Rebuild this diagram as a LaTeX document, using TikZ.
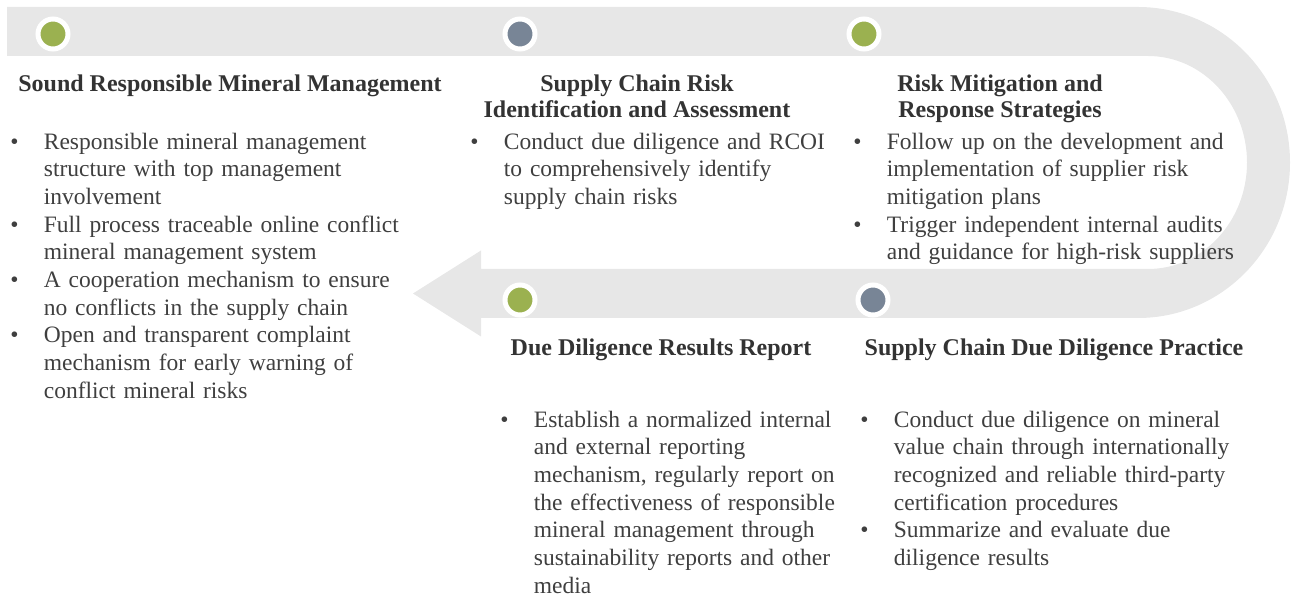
\documentclass[tikz,border=0pt]{standalone}
\usepackage{fontspec}
\setmainfont{Liberation Serif}
\usepackage{tikz}
\usetikzlibrary{positioning}
\definecolor{bandgray}{HTML}{E7E7E7}
\definecolor{dotgreen}{HTML}{9BB150}
\definecolor{dotslate}{HTML}{788596}
\definecolor{headtext}{HTML}{333333}
\definecolor{bodytext}{HTML}{3F3F3F}
\newcommand{\bul}[1]{\par\noindent\lineskip=0pt\makebox[16.75pt][l]{\textbullet}%
  \parbox[t]{\dimexpr\linewidth-16.75pt}{\raggedright\strut#1\strut}\par}

\begin{document}
\begin{tikzpicture}[x=0.5pt, y=0.5pt,
    dot/.style={circle, draw=white, line width=2.5pt, minimum size=15pt, inner sep=0pt},
    heading/.style={font=\fontsize{12}{13.25}\selectfont\bfseries, text=headtext,
        align=center, anchor=north, inner sep=0pt},
    detail/.style={font=\fontsize{11.75}{13.85}\selectfont, text=bodytext,
        anchor=north west, inner sep=0pt},
]
\useasboundingbox (0,0) rectangle (1291,-597);
% U-shaped band ending in an arrow head
\fill[bandgray] (7,-7) -- (1138,-7)
    arc[start angle=90, end angle=-90, x radius=76pt, y radius=77.75pt]
    -- (481,-318) -- (481,-336.5) -- (413,-293.5) -- (481,-250.5) -- (481,-269)
    -- (1148,-269)
    arc[start angle=-90, end angle=90, x radius=49.5pt, y radius=53.25pt]
    -- (7,-56) -- cycle;
% stage dots
\node[dot, fill=dotgreen] (d1) at (53,-34) {};
\node[dot, fill=dotslate] (d2) at (520,-34) {};
\node[dot, fill=dotgreen] (d3) at (864,-34) {};
\node[dot, fill=dotgreen] (d4) at (520,-300) {};
\node[dot, fill=dotslate] (d5) at (873,-300) {};
% headings
\node[heading] (t1) at (230,-72.5) {\strut Sound Responsible Mineral Management};
\node[heading] (t2) at (637,-72.5) {\strut Supply Chain Risk\\Identification and Assessment};
\node[heading] (t3) at (1000,-72.5) {\strut Risk Mitigation and\\Response Strategies};
\node[heading] (t4) at (661,-336.5) {\strut Due Diligence Results Report};
\node[heading] (t5) at (1054,-336.5) {\strut Supply Chain Due Diligence Practice};
% details
\node[detail, text width=205pt] (b1) at (10,-121) {%
  \bul{Responsible mineral management\\structure with top management\\involvement}
  \bul{Full process traceable online conflict\\mineral management system}
  \bul{A cooperation mechanism to ensure\\no conflicts in the supply chain}
  \bul{Open and transparent complaint\\mechanism for early warning of\\conflict mineral risks}};
\node[detail, text width=185pt] (b2) at (470,-121) {%
  \bul{Conduct due diligence and RCOI\\to comprehensively identify\\supply chain risks}};
\node[detail, text width=205pt] (b3) at (853,-121) {%
  \bul{Follow up on the development and\\implementation of supplier risk\\mitigation plans}
  \bul{Trigger independent internal audits\\and guidance for high-risk suppliers}};
\node[detail, text width=180pt] (b4) at (500,-399) {%
  \bul{Establish a normalized internal\\and external reporting\\mechanism, regularly report on\\the effectiveness of responsible\\mineral management through\\sustainability reports and other\\media}};
\node[detail, text width=200pt] (b5) at (860,-399) {%
  \bul{Conduct due diligence on mineral\\value chain through internationally\\recognized and reliable third-party\\certification procedures}
  \bul{Summarize and evaluate due\\diligence results}};
\end{tikzpicture}
\end{document}
